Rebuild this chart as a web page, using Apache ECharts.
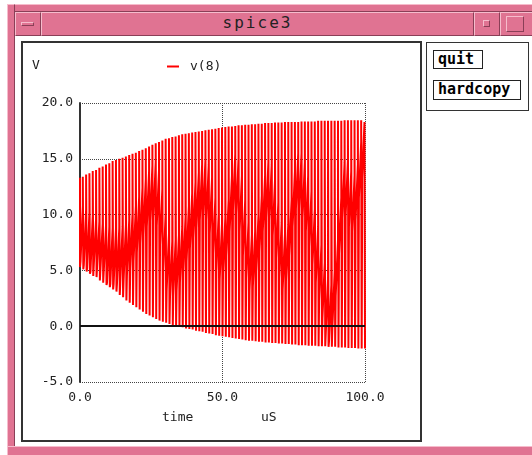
<!DOCTYPE html>
<html><head><meta charset="utf-8">
<script src="https://cdn.jsdelivr.net/npm/echarts@6/dist/echarts.min.js"></script>
<style>
html,body{margin:0;padding:0;width:532px;height:455px;overflow:hidden;background:#fff;}
.a{position:absolute;box-sizing:border-box;}
.pink{background:#e07392;}
.bev{border-top:1px solid #f6bccc;border-left:1px solid #f6bccc;border-right:1px solid #8a3f57;border-bottom:1px solid #8a3f57;}
.btn{font-family:"DejaVu Sans Mono",monospace;font-weight:bold;font-size:15px;color:#000;border:1px solid #222;background:#fff;line-height:16px;padding-left:4px;}
</style></head><body>
<div class="a pink bev" style="left:7px;top:4px;width:530px;height:8px;"></div>
<div class="a pink bev" style="left:7px;top:4px;width:8px;height:460px;"></div>
<div class="a pink bev" style="left:7px;top:446px;width:530px;height:12px;"></div>
<div class="a pink bev" style="left:15px;top:12px;width:26px;height:24px;"></div>
<div class="a bev" style="left:21px;top:22px;width:13px;height:4px;background:#e07392;"></div>
<div class="a pink bev" style="left:41px;top:12px;width:433px;height:24px;"></div>
<div class="a" style="left:41px;top:12px;width:433px;height:24px;text-align:center;font-family:'DejaVu Sans Mono',monospace;font-size:16px;letter-spacing:2px;line-height:22px;color:#222;">spice3</div>
<div class="a pink bev" style="left:474px;top:12px;width:26px;height:24px;"></div>
<div class="a bev" style="left:483px;top:20px;width:7px;height:7px;"></div>
<div class="a pink bev" style="left:500px;top:12px;width:40px;height:24px;"></div>
<div class="a bev" style="left:506px;top:16px;width:18px;height:16px;"></div>
<div class="a" style="left:21px;top:41px;width:401px;height:401px;border:2px solid #333;"></div>
<div class="a" style="left:426px;top:42px;width:103px;height:69px;border:1px solid #333;"></div>
<div class="a btn" style="left:433px;top:50px;width:50px;height:19px;">quit</div>
<div class="a btn" style="left:433px;top:80px;width:88px;height:20px;">hardcopy</div>
<div id="chart" style="position:absolute;left:0;top:0;width:532px;height:455px;"></div>
<script>
// stroke tops (V), one per carrier cycle
const upper = [13.3,13.4,13.6,13.7,13.9,14.0,14.2,14.3,14.5,14.6,14.8,14.9,15.0,15.1,15.2,15.35,15.45,15.55,15.7,15.8,
  15.95,16.1,16.25,16.4,16.5,16.65,16.8,16.85,16.95,17.0,17.1,17.2,17.25,17.3,17.35,17.4,17.45,17.5,17.55,17.6,
  17.65,17.7,17.75,17.8,17.85,17.9,17.9,17.95,18.0,18.0,18.05,18.05,18.1,18.1,18.15,18.15,18.2,18.2,18.2,18.25,
  18.25,18.25,18.3,18.3,18.3,18.3,18.3,18.35,18.35,18.35,18.35,18.35,18.4,18.4,18.4,18.4,18.4,18.4,18.4,18.4,
  18.45,18.45,18.45,18.45,18.45,18.45,18.45];
// stroke bottoms (V)
const lower = [5.3,5.1,4.9,4.7,4.5,4.4,4.1,3.9,3.7,3.5,3.3,3.1,2.8,2.6,2.3,2.1,1.9,1.7,1.5,1.3,
  1.1,0.95,0.8,0.65,0.5,0.4,0.3,0.2,0.1,0.05,0.0,-0.1,-0.2,-0.25,-0.3,-0.4,-0.45,-0.5,-0.6,-0.65,
  -0.7,-0.8,-0.85,-0.9,-0.95,-1.0,-1.05,-1.1,-1.15,-1.2,-1.25,-1.3,-1.3,-1.35,-1.4,-1.4,-1.45,-1.45,-1.5,-1.5,
  -1.55,-1.55,-1.6,-1.6,-1.65,-1.65,-1.7,-1.7,-1.7,-1.75,-1.75,-1.75,-1.8,-1.8,-1.8,-1.85,-1.85,-1.85,-1.9,-1.9,
  -1.9,-1.95,-1.95,-1.95,-2.0,-2.0,-2.0];
// centre level of the dense (beat) band, per cycle (V)
const band = [8.3,8.0,7.7,7.4,7.1,6.9,6.7,6.5,6.4,6.3,6.3,6.3,6.4,6.6,7.0,7.6,8.3,9.1,9.9,10.7,
  11.4,11.9,12.2,11.5,9.8,7.6,5.8,5.1,5.2,5.7,6.4,7.3,8.3,9.4,10.4,11.3,12.0,12.4,12.0,10.8,
  9.0,7.5,6.7,7.2,8.8,11.0,12.9,12.6,11.0,8.8,6.8,5.7,6.0,7.4,9.2,11.0,12.2,12.0,10.6,8.6,
  6.8,5.8,6.6,8.8,11.4,13.0,13.0,12.2,11.0,9.6,8.0,6.4,4.8,3.2,1.8,1.2,2.4,5.2,9.0,12.2,
  12.4,11.4,11.0,12.0,14.0,15.8,16.5];
const bandHalf = 2.5;   // half height of the dense band (V)
const yTicks = [-5, 0, 5, 10, 15, 20];
const xTicks = [0, 50, 100];

const strokeStep = 100 / (upper.length - 1);
const d = 0.18;
const pts = [];
for (let k = 0; k < upper.length; k++) {
  const t = k * strokeStep;
  pts.push([t, upper[k]]);
  pts.push([t, lower[k]]);
  if (k < upper.length - 1) {
    const lo = Math.max(lower[k], band[k] - bandHalf);
    const hi = Math.min(upper[k + 1], band[k] + bandHalf);
    pts.push([t + d, lower[k]]);
    pts.push([t + d, lo]);
    pts.push([t + strokeStep - d, hi]);
    pts.push([t + strokeStep - d, upper[k + 1]]);
  }
}

const font = 'DejaVu Sans Mono';
const chart = echarts.init(document.getElementById('chart'), null, {renderer: 'canvas'});
chart.setOption({
  animation: false,
  backgroundColor: 'transparent',
  grid: {left: 80, top: 103, width: 285, height: 279, containLabel: false},
  legend: {
    left: 162, top: 55, itemWidth: 12, itemHeight: 2, icon: 'rect',
    textStyle: {fontFamily: font, fontSize: 13, color: '#222', padding: [0, 0, 0, 6]},
    data: ['v(8)']
  },
  xAxis: {
    type: 'value', min: xTicks[0], max: xTicks[xTicks.length - 1], interval: 50,
    axisLine: {show: false}, axisTick: {show: false},
    axisLabel: {margin: 9, fontFamily: font, fontSize: 13, color: '#222', formatter: v => v.toFixed(1)},
    splitLine: {show: true, lineStyle: {color: '#444', width: 1, type: [1, 1]}}
  },
  yAxis: {
    type: 'value', min: yTicks[0], max: yTicks[yTicks.length - 1], interval: 5,
    axisLine: {show: true, lineStyle: {color: '#333', width: 2}}, axisTick: {show: false},
    axisLabel: {margin: 7, fontFamily: font, fontSize: 13, color: '#222', formatter: v => v.toFixed(1)},
    splitLine: {show: true, lineStyle: {color: '#444', width: 1, type: [1, 1]}}
  },
  graphic: [
    {type: 'text', left: 32, top: 59, style: {text: 'V', font: '13px ' + font, fill: '#222'}},
    {type: 'text', left: 162, top: 411, style: {text: 'time', font: '13px ' + font, fill: '#222'}},
    {type: 'text', left: 261, top: 411, style: {text: 'uS', font: '13px ' + font, fill: '#222'}}
  ],
  series: [{
    name: 'v(8)', type: 'line', data: pts, showSymbol: false, symbol: 'none',
    itemStyle: {color: '#ff0000'},
    lineStyle: {color: '#ff0000', width: 2.0},
    markLine: {
      silent: true, symbol: 'none', label: {show: false},
      lineStyle: {color: '#111', width: 2, type: 'solid'},
      data: [{yAxis: 0}]
    }
  }]
});
</script>
</body></html>
